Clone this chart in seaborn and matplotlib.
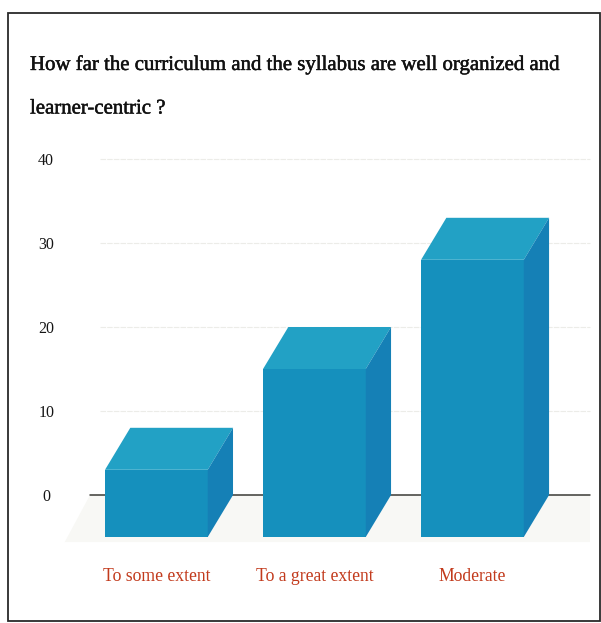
import matplotlib
matplotlib.use("Agg")
import matplotlib.pyplot as plt
import matplotlib.patheffects as pe
import seaborn as sns
import pandas as pd
from matplotlib.patches import Rectangle

categories = ["To some extent", "To a great extent", "Moderate"]
values = [8, 20, 33]
y_ticks = [0, 10, 20, 30, 40]
title_lines = ["How far the curriculum and the syllabus are well organized and",
               "learner-centric ?"]

DEPTH_Y = 5.0     # depth of the 3D box in value units
DEPTH_X = 0.16    # depth of the 3D box in category units
FRONT, TOP, SIDE = "#1590bd", "#22a1c5", "#1580b6"

W, H = 601, 623
sns.set_theme(style="white")
plt.rcParams["font.family"] = ["Liberation Serif", "DejaVu Serif"]

fig = plt.figure(figsize=(W / 100, H / 100), dpi=100, facecolor="white")
left, right, top, bottom = 90, 590, 159, 495
ax = fig.add_axes([left / W, 1 - bottom / H, (right - left) / W, (bottom - top) / H])
ax.patch.set_alpha(0)

df = pd.DataFrame({"category": categories, "value": values})
sns.barplot(data=df, x="category", y="value", color=FRONT, saturation=1, width=0.65,
            ax=ax, zorder=3, linewidth=0)
ax.set_xlim(-0.42, 2.744)
ax.set_ylim(0, 40)

# floor shadow
ax.fill([-0.42, -0.42 - DEPTH_X, 2.744, 2.744], [0, -5.6, -5.6, 0], color="#f8f8f5",
        lw=0, zorder=1, clip_on=False)

# shift the front face down by the depth, add the top and side faces
for p in ax.patches:
    if not isinstance(p, Rectangle):
        continue
    x0, w, v = p.get_x(), p.get_width(), p.get_height()
    p.set_y(-DEPTH_Y)
    p.set_clip_on(False)
    x1 = x0 + w
    ft, fb = v - DEPTH_Y, -DEPTH_Y
    ax.fill([x0, x0 + DEPTH_X, x1 + DEPTH_X, x1], [ft, v, v, ft], color=TOP, lw=0, zorder=3, clip_on=False)
    ax.fill([x1, x1 + DEPTH_X, x1 + DEPTH_X, x1], [ft, v, fb + DEPTH_Y, fb], color=SIDE, lw=0, zorder=3, clip_on=False)

# grid and baseline
for t in y_ticks[1:]:
    ax.axhline(t, xmin=0.02, color="#ecece8", lw=0.8, ls=(0, (5, 1)), zorder=0, clip_on=False)
ax.axhline(0, color="#3a3a36", lw=1.1, zorder=2, clip_on=False)

sns.despine(ax=ax, left=True, bottom=True, top=True, right=True)
ax.set_xlabel("")
ax.set_ylabel("")
ax.set_yticks(y_ticks)
ax.set_yticklabels([str(t) for t in y_ticks], fontsize=11.5, color="#151515", ha="center")
ax.tick_params(axis="y", length=0, pad=31.5)
ax.tick_params(axis="x", length=0, pad=52.5)
ax.set_xticks(range(len(categories)))
ax.set_xticklabels(categories, fontsize=12.7, color="#c23a1c")

# title lines
stroke = [pe.withStroke(linewidth=0.35, foreground="#111111")]
fig.text(30 / W, 1 - 65 / H, title_lines[0], fontsize=15, color="#111111", va="center", ha="left",
         path_effects=stroke)
fig.text(30 / W, 1 - 109 / H, title_lines[1], fontsize=15, color="#111111", va="center", ha="left",
         path_effects=stroke)

# scanned frame
fig.add_artist(Rectangle((8 / W, 1 - 621 / H), 592 / W, 608 / H, transform=fig.transFigure,
                         fill=False, edgecolor="#2a2a2a", lw=1.3))

fig.savefig("out.png", dpi=100)
